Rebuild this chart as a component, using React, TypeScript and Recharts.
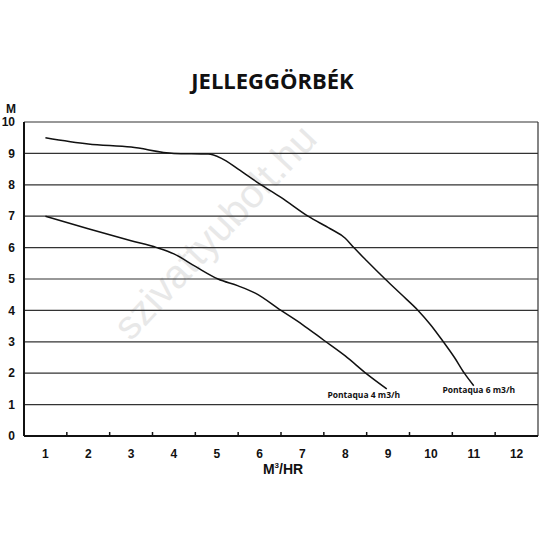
import React from 'react';
import { LineChart, Line, XAxis, YAxis, CartesianGrid, ReferenceLine } from 'recharts';

// flow (m3/h) and head (m)
const p6Flow = [1, 2, 3, 4, 4.8, 5.1, 5.5, 6.0, 6.5, 7.13, 7.65, 8.0, 8.2, 8.5, 8.93, 9.3, 9.7, 10.0, 10.29, 10.55, 10.78, 11.0];
const p6Head = [9.5, 9.3, 9.2, 9.0, 8.98, 8.85, 8.5, 8.03, 7.6, 7.0, 6.6, 6.3, 6.0, 5.58, 5.0, 4.52, 4.0, 3.53, 3.0, 2.5, 2.0, 1.6];
const p4Flow = [1, 2, 3, 3.6, 4.0, 4.5, 5.03, 5.5, 5.9, 6.5, 7.0, 7.5, 8.0, 8.5, 8.97];
const p4Head = [7.0, 6.6, 6.22, 6.0, 5.8, 5.4, 5.0, 4.78, 4.55, 4.0, 3.55, 3.05, 2.55, 1.98, 1.5];

const xTicks = [1, 2, 3, 4, 5, 6, 7, 8, 9, 10, 11, 12];
const yTicks = [0, 1, 2, 3, 4, 5, 6, 7, 8, 9, 10];

const p6Data = p6Flow.map((x, i) => ({ x, h: p6Head[i] }));
const p4Data = p4Flow.map((x, i) => ({ x, h: p4Head[i] }));

const W = 545;
const H = 546;
const PLOT_LEFT = 24;
const PLOT_RIGHT = 538;
const STEP = (PLOT_RIGHT - PLOT_LEFT) / 12;
const TICK_MARGIN = 13;
const axisFont = 'Arial, "Liberation Sans", sans-serif';

const XTick = ({ x, y, payload }: any) => {
  const axisY = y - TICK_MARGIN;
  return (
    <g>
      <text x={x} y={y} dy="0.71em" textAnchor="middle" fontFamily={axisFont} fontWeight={700} fontSize={12} fill="#111">
        {payload.value}
      </text>
      {payload.value < 12 && (
        <line x1={x + STEP / 2} x2={x + STEP / 2} y1={axisY} y2={axisY - 4} stroke="#111" strokeWidth={1.5} />
      )}
    </g>
  );
};

const curveLabel = (text: string, count: number, dx: number, dy: number) => (props: any) => {
  const { x, y, index } = props;
  if (index !== count - 1) return null;
  return (
    <text
      key={text}
      x={x + dx}
      y={y + dy}
      textAnchor="middle"
      dominantBaseline="middle"
      fontFamily='"Open Sans", sans-serif'
      fontWeight={700}
      fontSize={8.5}
      fill="#111"
    >
      {text}
    </text>
  );
};

export default function App() {
  return (
    <div style={{ position: 'absolute', left: 0, top: 0, width: W, height: H, background: '#fff', overflow: 'hidden' }}>
      <div
        style={{
          position: 'absolute',
          left: 215,
          top: 232,
          transform: 'translate(-50%, -50%) rotate(-47deg)',
          fontFamily: axisFont,
          fontSize: 40,
          color: '#e8e8e8',
          whiteSpace: 'nowrap',
        }}
      >
        szivattyubolt.hu
      </div>
      <div
        style={{
          position: 'absolute',
          left: 0,
          width: W,
          top: 62,
          textAlign: 'center',
          fontFamily: '"Open Sans", sans-serif',
          fontWeight: 700,
          fontSize: 22,
          color: '#111',
          lineHeight: '36px',
        }}
      >
        JELLEGGÖRBÉK
      </div>
      <div style={{ position: 'absolute', left: 0, top: 0 }}>
        <LineChart width={W} height={H} data={p6Data} margin={{ top: 122, right: W - PLOT_RIGHT, bottom: 80, left: 0 }}>
          <CartesianGrid vertical={false} stroke="#333" strokeWidth={1.2} />
          <XAxis
            dataKey="x"
            type="number"
            domain={[0.5, 12.5]}
            ticks={xTicks}
            interval={0}
            height={30}
            tickSize={0}
            tickMargin={TICK_MARGIN}
            tickLine={false}
            axisLine={{ stroke: '#111', strokeWidth: 2 }}
            tick={<XTick />}
            label={() => (
              <text x={283} y={474} textAnchor="middle" fontFamily={axisFont} fontWeight={700} fontSize={14} fill="#111">
                M<tspan dy={-6} fontSize={8}>3</tspan>
                <tspan dy={6}>/HR</tspan>
              </text>
            )}
          />
          <YAxis
            type="number"
            domain={[0, 10]}
            ticks={yTicks}
            interval={0}
            width={PLOT_LEFT}
            tickSize={0}
            tickMargin={9}
            tickLine={false}
            axisLine={{ stroke: '#111', strokeWidth: 2 }}
            tick={{ fontFamily: axisFont, fontWeight: 700, fontSize: 12, fill: '#111' }}
            label={() => (
              <text x={11} y={113} textAnchor="middle" fontFamily={axisFont} fontWeight={700} fontSize={12} fill="#111">
                M
              </text>
            )}
          />
          <ReferenceLine x={12.5} stroke="#333" strokeWidth={1.2} />
          <Line
            data={p6Data}
            dataKey="h"
            type="monotone"
            stroke="#111"
            strokeWidth={1.5}
            dot={false}
            isAnimationActive={false}
            label={curveLabel('Pontaqua 6 m3/h', p6Data.length, 5, 5)}
          />
          <Line
            data={p4Data}
            dataKey="h"
            type="monotone"
            stroke="#111"
            strokeWidth={1.5}
            dot={false}
            isAnimationActive={false}
            label={curveLabel('Pontaqua 4 m3/h', p4Data.length, -23, 7)}
          />
        </LineChart>
      </div>
    </div>
  );
}
